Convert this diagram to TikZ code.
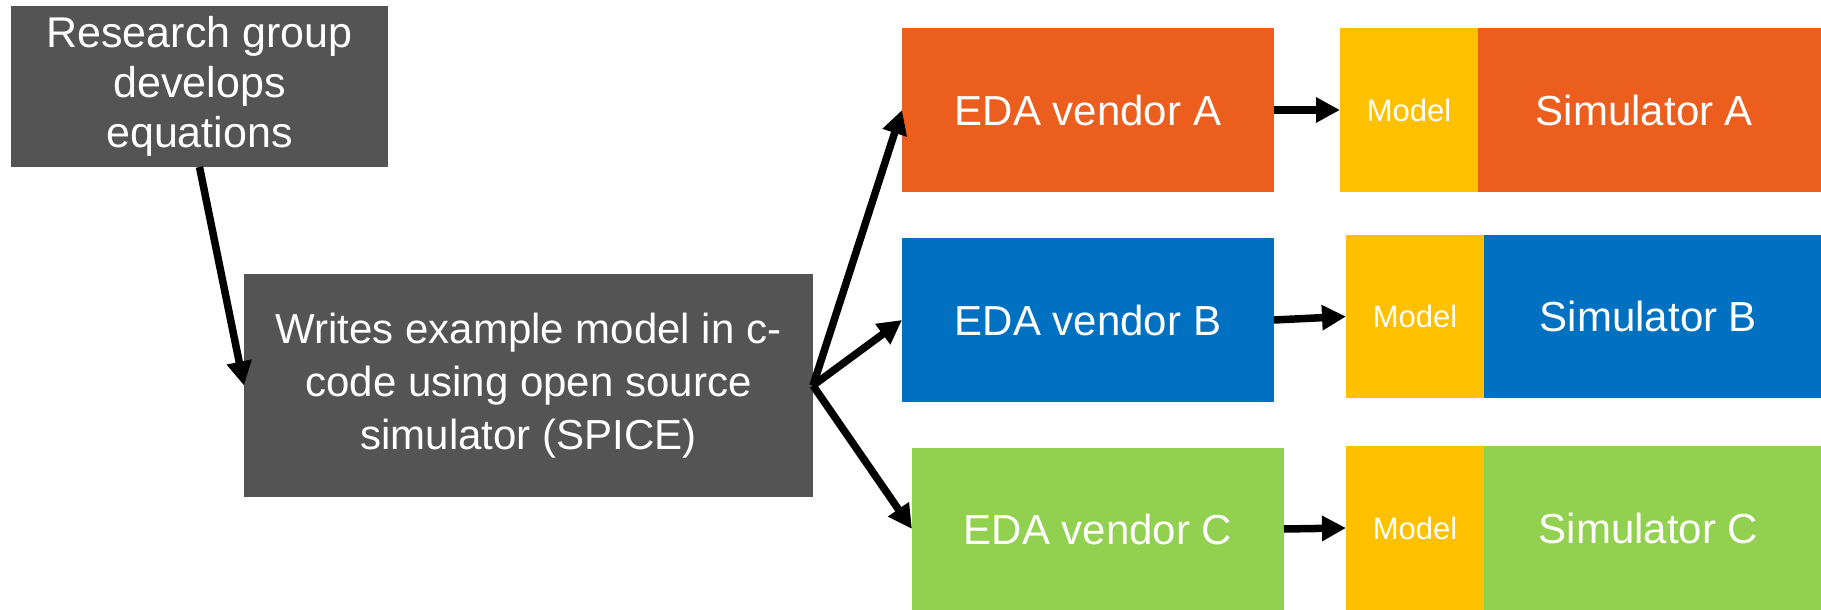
\documentclass[tikz,border=0pt]{standalone}
\usepackage{fontspec}
\setmainfont{Liberation Sans}
\usetikzlibrary{arrows.meta}

\definecolor{boxgray}{RGB}{84,84,84}
\definecolor{vendorA}{RGB}{236,94,30}
\definecolor{vendorB}{RGB}{0,112,192}
\definecolor{vendorC}{RGB}{146,208,80}
\definecolor{modelY}{RGB}{255,192,0}

\tikzset{
  block/.style={rectangle, inner sep=0pt, outer sep=0pt, text=white, align=center,
                font=\fontsize{42}{53}\selectfont},
  modelbox/.style={block, fill=modelY, minimum width=138pt, font=\fontsize{31}{36}\selectfont},
  flow/.style={line width=7.5pt, -{Triangle[length=24pt,width=24pt]}},
}

\begin{document}
\begin{tikzpicture}[x=1pt, y=-1pt]
  \useasboundingbox (0,0) rectangle (1821,610);

  % source boxes
  \node[block, fill=boxgray, minimum width=377pt, minimum height=161pt,
        font=\fontsize{43}{50}\selectfont] (research) at (199.5,86.5)
        {Research group\\develops\\equations};
  \node[block, fill=boxgray, minimum width=569pt, minimum height=223pt] (spice) at (528.5,385.5)
        {Writes example model in c-\\code using open source\\simulator (SPICE)};

  % vendors
  \node[block, fill=vendorA, minimum width=372pt, minimum height=164pt] (edaA) at (1088,110) {EDA vendor A};
  \node[block, fill=vendorB, minimum width=372pt, minimum height=164pt] (edaB) at (1088,320) {EDA vendor B};
  \node[block, fill=vendorC, minimum width=372pt, minimum height=162pt] (edaC) at (1098,529) {EDA vendor C};

  % models and simulators
  \node[modelbox, minimum height=164pt] (modA) at (1409,110) {Model};
  \node[block, fill=vendorA, minimum width=343pt, minimum height=164pt, anchor=west] (simA) at (modA.east) {Simulator A\kern10pt};
  \node[modelbox, minimum height=163pt] (modB) at (1415,316.5) {Model};
  \node[block, fill=vendorB, minimum width=337pt, minimum height=163pt, anchor=west] (simB) at (modB.east) {Simulator B\kern8pt};
  \node[modelbox, minimum height=164pt] (modC) at (1415,528) {Model};
  \node[block, fill=vendorC, minimum width=337pt, minimum height=164pt, anchor=west] (simC) at (modC.east) {Simulator C\kern8pt};

  % connectors
  \draw[flow] (research.south) -- (spice.west);
  \draw[flow] (spice.east) -- (edaA.west);
  \draw[flow] (spice.east) -- (edaB.west);
  \draw[flow] (spice.east) -- (edaC.west);
  \draw[flow] (edaA.east) -- (modA.west);
  \draw[flow] (edaB.east) -- (modB.west);
  \draw[flow] (edaC.east) -- (modC.west);
\end{tikzpicture}
\end{document}
